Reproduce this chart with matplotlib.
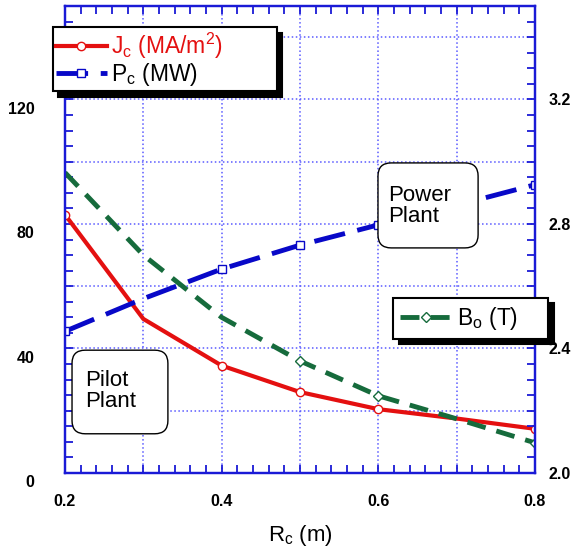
import matplotlib
matplotlib.use("Agg")
import matplotlib.pyplot as plt
from matplotlib.patches import FancyBboxPatch
from matplotlib.ticker import MultipleLocator, FuncFormatter
from matplotlib.transforms import ScaledTranslation

plt.rcParams["font.family"] = ["Liberation Sans", "DejaVu Sans"]
plt.rcParams["mathtext.fontset"] = "custom"
plt.rcParams["mathtext.rm"] = "Liberation Sans"
plt.rcParams["mathtext.it"] = "Liberation Sans"

# coil radius scan
R_C = [0.2, 0.3, 0.4, 0.5, 0.6, 0.7, 0.8]
J_C = [83.0, 49.5, 34.5, 26.0, 20.5, 17.5, 14.2]   # MA/m^2 (left axis)
P_C = [45.5, 56.0, 65.5, 73.2, 79.7, 86.0, 92.6]   # MW (left axis)
B_0 = [2.965, 2.70, 2.50, 2.36, 2.248, 2.174, 2.097]  # T (right axis)
MARKED = [0, 2, 3, 4, 6]

AX_BLUE = "#1a1ad6"
GRID_BLUE = "#5a5aff"
RED = "#e41010"
BLUE = "#0808c8"
GREEN = "#166b3c"

fig = plt.figure(figsize=(5.74, 5.57), dpi=100)
ax = fig.add_axes([0.1132, 0.1508, 0.8188, 0.8384])
ax2 = ax.twinx()

ax.plot(R_C, J_C, color=RED, lw=3, marker="o", ms=6, mfc="white",
        mec=RED, mew=1, markevery=MARKED, label=r"J$_{\mathrm{c}}$ (MA/m$^2$)")
ax.plot(R_C, P_C, color=BLUE, lw=3.5, dashes=(6.5, 2.6), marker="s", ms=6,
        mfc="white", mec=BLUE, mew=1, markevery=MARKED, label=r"P$_{\mathrm{c}}$ (MW)")
ax2.plot(R_C, B_0, color=GREEN, lw=3.5, dashes=(3.9, 2.3), marker="D", ms=5,
         mfc="white", mec=GREEN, mew=1, markevery=[3, 4, 6], label=r"B$_{\mathrm{o}}$ (T)")

ax.set_xlim(0.2, 0.8)
ax.set_ylim(0, 150)
ax2.set_ylim(2.0, 3.5)

ax.xaxis.set_major_locator(MultipleLocator(0.1))
ax.xaxis.set_minor_locator(MultipleLocator(0.02))
ax.yaxis.set_major_locator(MultipleLocator(20))
ax.yaxis.set_minor_locator(MultipleLocator(5))
ax2.yaxis.set_major_locator(MultipleLocator(0.2))
ax2.yaxis.set_minor_locator(MultipleLocator(0.05))

ax.xaxis.set_major_formatter(FuncFormatter(
    lambda v, p: f"{v:.1f}" if round(v * 10) % 2 == 0 else ""))
ax.yaxis.set_major_formatter(FuncFormatter(
    lambda v, p: f"{v:.0f}" if round(v) % 40 == 0 else ""))
ax2.yaxis.set_major_formatter(FuncFormatter(
    lambda v, p: f"{v:.1f}" if round(v * 10) % 4 == 0 else ""))

ax.grid(True, which="major", color=GRID_BLUE, ls=":", lw=1.1)

for a in (ax, ax2):
    for s in a.spines.values():
        s.set_color(AX_BLUE)
        s.set_linewidth(1.6)
ax.tick_params(which="both", direction="in", top=True, right=False,
               color=AX_BLUE, width=1.3, length=6)
ax.tick_params(axis="x", which="major", pad=15, labelsize=11.5)
ax.tick_params(axis="y", which="major", pad=22, labelsize=11.5)
ax2.tick_params(which="both", direction="in", color=AX_BLUE, width=1.3,
                length=6, pad=10, labelsize=11.5)
for lbl in ax.get_xticklabels() + ax.get_yticklabels() + ax2.get_yticklabels():
    lbl.set_fontweight("bold")
for lbl in ax.get_yticklabels():
    lbl.set_transform(lbl.get_transform() + ScaledTranslation(0, -6 / 72, fig.dpi_scale_trans))

ax.set_xlabel(r"R$_{\mathrm{c}}$ (m)", fontsize=16, labelpad=10)

shadow = {"color": "black", "alpha": 1.0, "ox": 4, "oy": -4}
h1, l1 = ax.get_legend_handles_labels()
leg1 = ax2.legend(h1, l1, loc="upper left", bbox_to_anchor=(-0.026, 0.955, 0.477, 0.0),
                  mode="expand", borderaxespad=0, fontsize=16.5, handlelength=2.2,
                  handletextpad=0.2, labelspacing=0.0, borderpad=0.15, fancybox=False,
                  shadow=shadow, edgecolor="black", framealpha=1)
leg1.get_frame().set_linewidth(1.5)
leg1.get_texts()[0].set_color(RED)
ax2.add_artist(leg1)

h2, l2 = ax2.get_legend_handles_labels()
leg2 = ax2.legend(h2, l2, loc="upper left", bbox_to_anchor=(0.698, 0.375, 0.33, 0.0),
                  mode="expand", borderaxespad=0, fontsize=16.5, handlelength=2.3,
                  handletextpad=0.2, borderpad=0.3, fancybox=False, shadow=shadow,
                  edgecolor="black", framealpha=1)
leg2.get_frame().set_linewidth(1.5)
leg2.set_clip_on(False)

# rounded annotation boxes
for (x0, y0, w, h), tx, ty, txt in [
        ((0.666, 0.482, 0.213, 0.182), 0.687, 0.572, "Power\nPlant"),
        ((0.015, 0.084, 0.204, 0.179), 0.043, 0.176, "Pilot\nPlant")]:
    box = FancyBboxPatch((x0, y0), w, h, boxstyle="round,pad=0,rounding_size=0.028",
                         transform=ax2.transAxes, fc="white", ec="black", lw=1.0,
                         zorder=5)
    ax2.add_patch(box)
    ax2.text(tx, ty, txt, transform=ax2.transAxes, fontsize=16, va="center",
             ha="left", linespacing=1.0, zorder=6)

fig.savefig("out.png", dpi=100)
